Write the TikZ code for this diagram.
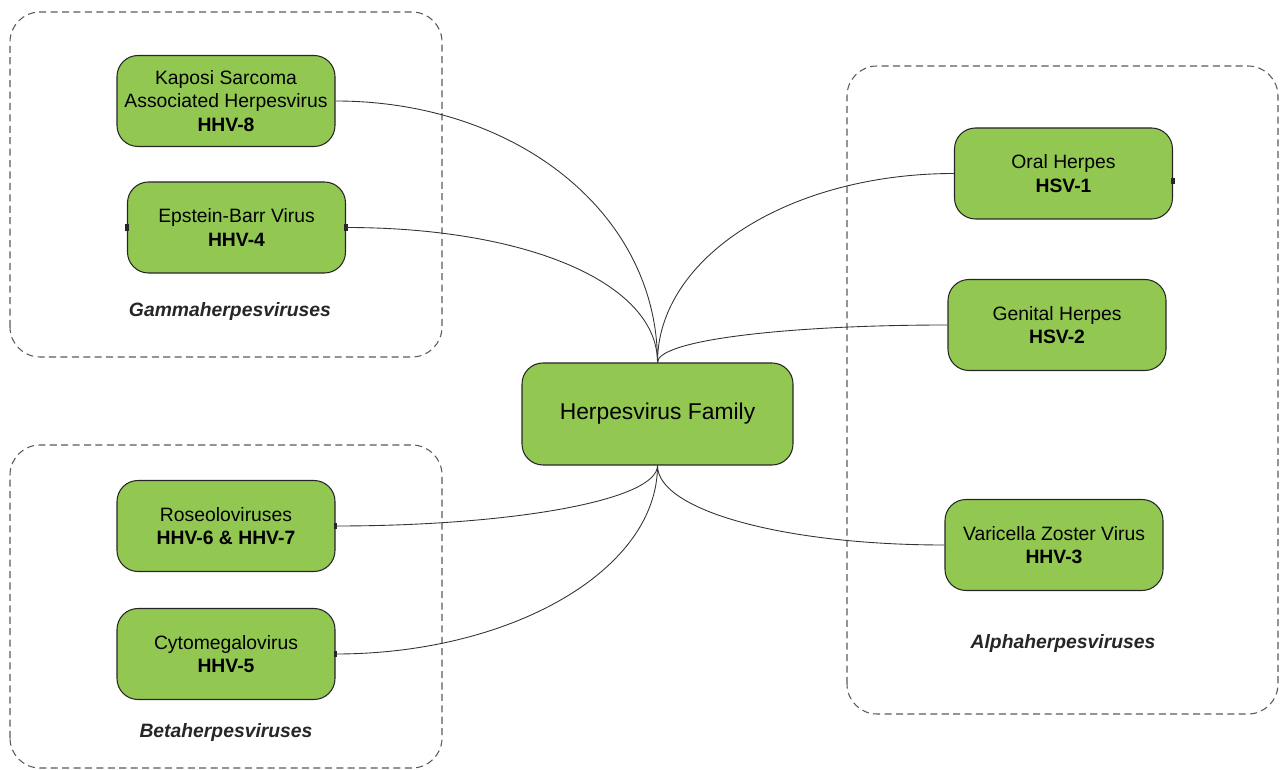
\documentclass[tikz,border=0pt]{standalone}
\usepackage{fontspec}
\setmainfont{Liberation Sans}
\usepackage{tikz}
\usetikzlibrary{shapes,arrows,positioning,fit,calc,backgrounds}
\usepackage{xcolor}
\definecolor{virgreen}{RGB}{146,200,82}
\definecolor{grpgray}{RGB}{90,90,90}

\tikzset{
  virus/.style={draw=black!85, line width=0.6pt, fill=virgreen, rounded corners=0.42cm,
    minimum width=4.36cm, minimum height=1.82cm, align=center, font=\fontsize{11}{13.5}\selectfont},
  group/.style={draw=grpgray, line width=0.6pt, dash pattern=on 4pt off 2.5pt, rounded corners=0.6cm},
  grplabel/.style={font=\fontsize{11}{13}\selectfont\bfseries\itshape, text=black!85},
  link/.style={draw=black!80, line width=0.5pt},
  port/.style={fill=black!85, minimum width=0.07cm, minimum height=0.13cm, inner sep=0pt}
}

\begin{document}
\begin{tikzpicture}
\useasboundingbox (0,0) rectangle (25.6,15.38);

% Family groups
\draw[group] (0.2,8.24) rectangle (8.84,15.14);
\draw[group] (0.2,0.02) rectangle (8.84,6.48);
\draw[group] (16.94,1.10) rectangle (25.56,14.06);

% Centre node
\node[virus, minimum width=5.42cm, minimum height=2.04cm, font=\fontsize{13}{15}\selectfont] (fam) at (13.15,7.10) {Herpesvirus Family};

% Gammaherpesviruses
\node[virus] (hhv8) at (4.52,13.36) {Kaposi Sarcoma\\Associated Herpesvirus\\\textbf{HHV-8}};
\node[virus] (hhv4) at (4.73,10.83) {Epstein-Barr Virus\\\textbf{HHV-4}};
\node[grplabel] (gamma) at (4.6,9.14) {Gammaherpesviruses};

% Betaherpesviruses
\node[virus] (hhv67) at (4.52,4.86) {Roseoloviruses\\\textbf{HHV-6 \& HHV-7}};
\node[virus] (hhv5) at (4.52,2.30) {Cytomegalovirus\\\textbf{HHV-5}};
\node[grplabel] (beta) at (4.52,0.72) {Betaherpesviruses};

% Alphaherpesviruses
\node[virus] (hsv1) at (21.27,11.91) {Oral Herpes\\\textbf{HSV-1}};
\node[virus] (hsv2) at (21.14,8.88) {Genital Herpes\\\textbf{HSV-2}};
\node[virus] (hhv3) at (21.08,4.48) {Varicella Zoster Virus\\\textbf{HHV-3}};
\node[grplabel] (alpha) at (21.26,2.50) {Alphaherpesviruses};

% small port marks on some boxes
\node[port] (p4w) at (hhv4.west) {};
\node[port] (p4e) at (hhv4.east) {};
\node[port] (p67) at (hhv67.east) {};
\node[port] (p5) at (hhv5.east) {};
\node[port] (p1) at ([yshift=-0.15cm]hsv1.east) {};

% Links from the family node
\draw[link] (fam.north) to[out=90,in=0,out distance=3.0cm,in distance=3.6cm] (hhv8.east);
\draw[link] (fam.north) to[out=90,in=0,out distance=1.6cm,in distance=3.6cm] (hhv4.east);
\draw[link] (fam.north) to[out=90,in=180,out distance=2.1cm,in distance=3.3cm] (hsv1.west);
\draw[link] (fam.north) to[out=90,in=180,out distance=0.45cm,in distance=3.2cm] (hsv2.west);
\draw[link] (fam.south) to[out=-90,in=0,out distance=0.7cm,in distance=3.5cm] (hhv67.east);
\draw[link] (fam.south) to[out=-90,in=0,out distance=2.1cm,in distance=3.5cm] (hhv5.east);
\draw[link] (fam.south) to[out=-90,in=180,out distance=0.9cm,in distance=3.2cm] (hhv3.west);

\end{tikzpicture}
\end{document}
